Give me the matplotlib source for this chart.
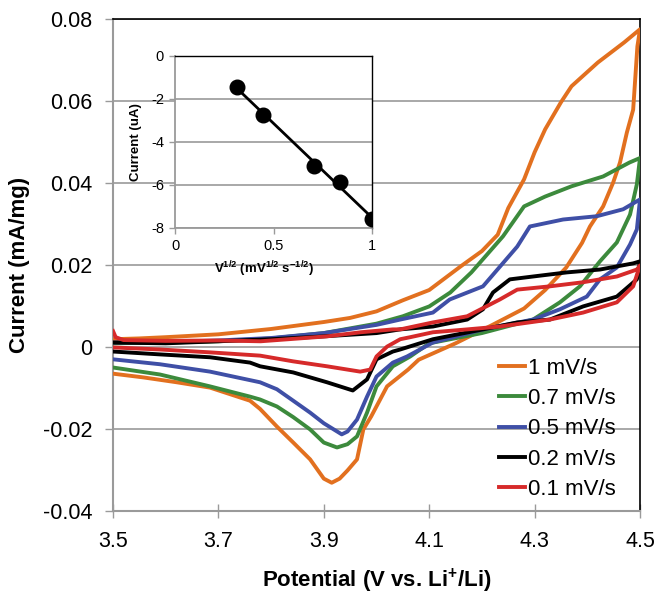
import numpy as np
import matplotlib
matplotlib.use("Agg")
import matplotlib.pyplot as plt

plt.rcParams['font.family'] = ['Liberation Sans', 'DejaVu Sans']
plt.rcParams['mathtext.fontset'] = 'custom'
plt.rcParams['mathtext.rm'] = 'Liberation Sans'
plt.rcParams['mathtext.bf'] = 'Liberation Sans:bold'

# ---------------- data ----------------
labels = ['1 mV/s', '0.7 mV/s', '0.5 mV/s', '0.2 mV/s', '0.1 mV/s']
colors = ['#E2701F', '#3C8A3C', '#3F4FA6', '#000000', '#D62A2A']

# 1 mV/s
v_fwd_1 = [3.50, 3.55, 3.60, 3.70, 3.80, 3.90, 3.95, 4.00, 4.05, 4.10, 4.16, 4.20, 4.23, 4.25,
           4.28, 4.30, 4.32, 4.35, 4.37, 4.42, 4.47, 4.50]
i_fwd_1 = [0.0020, 0.0022, 0.0025, 0.0032, 0.0045, 0.0062, 0.0072, 0.0088, 0.0115, 0.0140, 0.0198,
           0.0235, 0.0275, 0.0340, 0.0410, 0.0476, 0.0532, 0.0598, 0.0637, 0.0695, 0.0744, 0.0776]
v_rev_1 = [4.50, 4.495, 4.487, 4.475, 4.462, 4.449, 4.43, 4.405, 4.39, 4.36, 4.32, 4.28, 4.22, 4.15,
           4.08, 4.06, 4.02, 3.99, 3.975, 3.963, 3.945, 3.93, 3.915, 3.90, 3.874, 3.842, 3.811,
           3.779, 3.76, 3.684, 3.621, 3.557, 3.50]
i_rev_1 = [0.0776, 0.0734, 0.0580, 0.0524, 0.0451, 0.0402, 0.0344, 0.0295, 0.0255, 0.0195, 0.0140,
           0.0095, 0.0055, 0.0010, -0.0030, -0.0054, -0.0095, -0.0168, -0.0200, -0.0273, -0.0300,
           -0.0320, -0.0330, -0.0320, -0.0273, -0.0232, -0.0193, -0.0150, -0.0130, -0.0098,
           -0.0085, -0.0073, -0.0064]

# 0.7 mV/s
v_fwd_07 = [3.50, 3.60, 3.70, 3.80, 3.90, 4.00, 4.05, 4.10, 4.14, 4.18, 4.24, 4.28, 4.32, 4.37,
            4.43, 4.48, 4.50]
i_fwd_07 = [0.0010, 0.0012, 0.0015, 0.0022, 0.0035, 0.0058, 0.0076, 0.0100, 0.0134, 0.0183, 0.0271,
            0.0344, 0.0368, 0.0393, 0.0417, 0.0451, 0.0462]
v_rev_07 = [4.50, 4.494, 4.481, 4.456, 4.424, 4.386, 4.348, 4.297, 4.20, 4.10, 4.064, 4.031, 4.00,
            3.982, 3.963, 3.945, 3.925, 3.90, 3.874, 3.842, 3.811, 3.779, 3.76, 3.684, 3.589, 3.50]
i_rev_07 = [0.0462, 0.0398, 0.0324, 0.0256, 0.0210, 0.0149, 0.0110, 0.0068, 0.0035, 0.0010, -0.0022,
            -0.0046, -0.0095, -0.0159, -0.0217, -0.0236, -0.0244, -0.0232, -0.0200, -0.0170,
            -0.0144, -0.0127, -0.0120, -0.0095, -0.0066, -0.0049]

# 0.5 mV/s
v_fwd_05 = [3.50, 3.60, 3.70, 3.80, 3.90, 4.00, 4.045, 4.107, 4.139, 4.202, 4.267, 4.291, 4.354,
            4.418, 4.468, 4.50]
i_fwd_05 = [0.0012, 0.0013, 0.0017, 0.0023, 0.0035, 0.0055, 0.0068, 0.0085, 0.0117, 0.0149, 0.0246,
            0.0295, 0.0312, 0.0320, 0.0337, 0.0361]
v_rev_05 = [4.50, 4.494, 4.481, 4.456, 4.424, 4.399, 4.348, 4.297, 4.202, 4.107, 4.058, 4.031, 4.00,
            3.982, 3.963, 3.945, 3.934, 3.90, 3.874, 3.842, 3.811, 3.779, 3.684, 3.589, 3.50]
i_rev_05 = [0.0361, 0.0288, 0.0251, 0.0195, 0.0166, 0.0124, 0.0093, 0.0068, 0.0044, 0.0012, -0.0022,
            -0.0037, -0.0071, -0.0120, -0.0176, -0.0205, -0.0212, -0.0185, -0.0159, -0.0130,
            -0.0102, -0.0085, -0.0059, -0.0041, -0.0029]

# 0.2 mV/s
v_fwd_02 = [3.50, 3.60, 3.70, 3.80, 3.90, 4.00, 4.045, 4.107, 4.172, 4.202, 4.221, 4.253, 4.297,
            4.361, 4.424, 4.487, 4.50]
i_fwd_02 = [0.0012, 0.0010, 0.0015, 0.0020, 0.0027, 0.0035, 0.0044, 0.0051, 0.0068, 0.0093, 0.0134,
            0.0166, 0.0173, 0.0183, 0.0190, 0.0205, 0.0210]
v_rev_02 = [4.50, 4.494, 4.456, 4.392, 4.329, 4.267, 4.202, 4.107, 4.045, 4.031, 4.00, 3.982, 3.955,
            3.906, 3.842, 3.779, 3.76, 3.684, 3.589, 3.50]
i_rev_02 = [0.0210, 0.0166, 0.0124, 0.0100, 0.0068, 0.0061, 0.0044, 0.0020, -0.0005, -0.0010,
            -0.0029, -0.0078, -0.0105, -0.0085, -0.0061, -0.0046, -0.0037, -0.0024, -0.0017, -0.0010]

# 0.1 mV/s
v_fwd_01 = [3.50, 3.505, 3.52, 3.60, 3.70, 3.78, 3.906, 3.97, 4.031, 4.045, 4.107, 4.172, 4.234,
            4.267, 4.329, 4.392, 4.456, 4.494, 4.50]
i_fwd_01 = [0.0040, 0.0025, 0.0018, 0.0016, 0.0017, 0.0015, 0.0027, 0.0037, 0.0044, 0.0044, 0.0061,
            0.0076, 0.0117, 0.0141, 0.0149, 0.0159, 0.0173, 0.0190, 0.0200]
v_rev_01 = [4.50, 4.487, 4.456, 4.392, 4.329, 4.234, 4.172, 4.107, 4.064, 4.045, 4.02, 4.00, 3.988,
            3.969, 3.906, 3.842, 3.779, 3.684, 3.589, 3.50]
i_rev_01 = [0.0200, 0.0149, 0.0110, 0.0085, 0.0068, 0.0051, 0.0044, 0.0037, 0.0025, 0.0020, 0.0002,
            -0.0022, -0.0054, -0.0059, -0.0046, -0.0034, -0.0020, -0.0012, -0.0005, 0.0000]

v_fwd = [v_fwd_1, v_fwd_07, v_fwd_05, v_fwd_02, v_fwd_01]
i_fwd = [i_fwd_1, i_fwd_07, i_fwd_05, i_fwd_02, i_fwd_01]
v_rev = [v_rev_1, v_rev_07, v_rev_05, v_rev_02, v_rev_01]
i_rev = [i_rev_1, i_rev_07, i_rev_05, i_rev_02, i_rev_01]

x_ticks = [3.5, 3.7, 3.9, 4.1, 4.3, 4.5]
y_ticks = [-0.04, -0.02, 0, 0.02, 0.04, 0.06, 0.08]
y_ticklabels = ['-0.04', '-0.02', '0', '0.02', '0.04', '0.06', '0.08']

# inset data
sqrt_rate = [0.316, 0.447, 0.707, 0.837, 1.0]
peak_current = [-1.45, -2.75, -5.1, -5.85, -7.6]

# ---------------- figure ----------------
fig = plt.figure(figsize=(6.59, 5.94), dpi=100)
ax = fig.add_axes([0.1715, 0.139, 0.7997, 0.8283])

grid_c = '#9a9a9a'
for k in range(len(labels)):
    vv = list(v_fwd[k]) + list(v_rev[k])
    ii = list(i_fwd[k]) + list(i_rev[k])
    ax.plot(vv, ii, color=colors[k], lw=2.8, label=labels[k], solid_joinstyle='round', zorder=3 + k)

ax.set_xlim(3.5, 4.5)
ax.set_ylim(-0.04, 0.08)
ax.set_xticks(x_ticks)
ax.set_xticklabels([f'{t:.1f}' for t in x_ticks])
ax.set_yticks(y_ticks)
ax.set_yticklabels(y_ticklabels)
ax.yaxis.grid(True, color=grid_c, lw=1.2)
ax.set_axisbelow(True)
ax.tick_params(axis='y', direction='out', length=6, width=1, color=grid_c, labelsize=15.5, pad=9)
ax.tick_params(axis='x', direction='inout', length=10, width=1, color=grid_c, labelsize=15.5, pad=9)
for s in ['left', 'bottom']:
    ax.spines[s].set_color(grid_c)
    ax.spines[s].set_linewidth(1.5)
for s in ['top', 'right']:
    ax.spines[s].set_color('black')
    ax.spines[s].set_linewidth(1.2)

ax.set_xlabel('Potential (V vs. Li$^{\\mathbf{+}}$/Li)', fontsize=16, fontweight='bold')
ax.set_ylabel('Current (mA/mg)', fontsize=16, fontweight='bold')
ax.xaxis.set_label_coords(0.5, -0.112)
ax.yaxis.set_label_coords(-0.157, 0.5)

leg = ax.legend(loc='lower right', bbox_to_anchor=(0.987, -0.013), frameon=False, fontsize=16,
                handlelength=1.2, handletextpad=0.1, labelspacing=0.42, borderpad=0.3)

# ---------------- inset ----------------
axi = fig.add_axes([0.2656, 0.6162, 0.2989, 0.2896])
axi.set_facecolor('white')
axi.set_zorder(20)
fit = np.polyfit(sqrt_rate, peak_current, 1)
xf = np.array([min(sqrt_rate), max(sqrt_rate)])
axi.plot(xf, np.polyval(fit, xf), color='black', lw=2, zorder=3)
axi.plot(sqrt_rate, peak_current, 'o', color='black', ms=10.5, zorder=4)
axi.set_xlim(0, 1)
axi.set_ylim(-8, 0)
axi.set_xticks([0, 0.5, 1])
axi.set_xticklabels(['0', '0.5', '1'])
axi.set_yticks([-8, -6, -4, -2, 0])
axi.set_yticklabels(['-8', '-6', '-4', '-2', '0'])
axi.yaxis.grid(True, color=grid_c, lw=1.2)
axi.set_axisbelow(True)
axi.tick_params(axis='both', direction='out', length=4, width=1, color=grid_c, labelsize=10.5, pad=4)
for s in ['left', 'bottom']:
    axi.spines[s].set_color(grid_c)
    axi.spines[s].set_linewidth(1.3)
for s in ['top', 'right']:
    axi.spines[s].set_color('black')
    axi.spines[s].set_linewidth(1)
axi.set_xlabel('V$^{\\mathbf{1/2}}$ (mV$^{\\mathbf{1/2}}$ s$^{\\mathbf{-1/2}}$)', fontsize=9.5,
               fontweight='bold')
axi.set_ylabel('Current (uA)', fontsize=9.5, fontweight='bold')
axi.xaxis.set_label_coords(0.45, -0.18)
axi.yaxis.set_label_coords(-0.17, 0.5)

fig.savefig('out.png', dpi=100)
